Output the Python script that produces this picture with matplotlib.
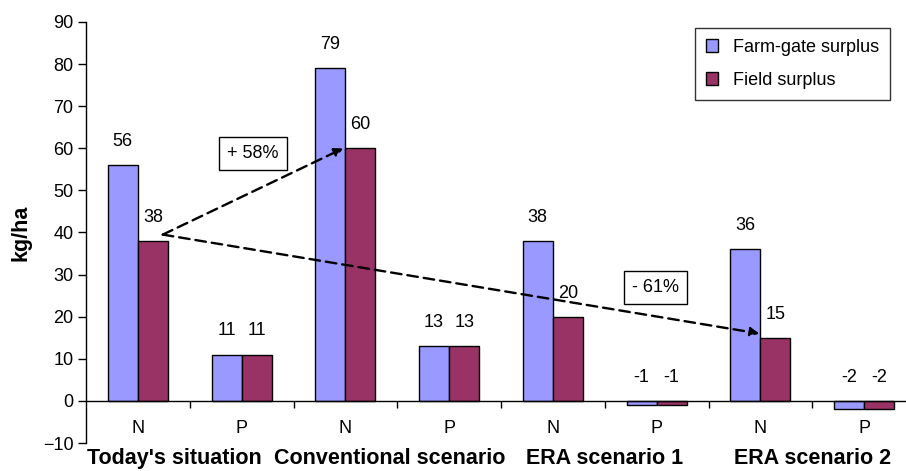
import matplotlib
matplotlib.use("Agg")
import matplotlib.pyplot as plt
import numpy as np

# Nutrient surpluses per scenario (kg/ha)
scenarios = ["Today's situation", "Conventional scenario", "ERA scenario 1", "ERA scenario 2"]
nutrients = ["N", "P", "N", "P", "N", "P", "N", "P"]
farm_gate = [56, 11, 79, 13, 38, -1, 36, -2]
field = [38, 11, 60, 13, 20, -1, 15, -2]
series_names = ["Farm-gate surplus", "Field surplus"]
change_labels = ["+ 58%", "- 61%"]

plt.rcParams["font.family"] = ["Liberation Sans", "DejaVu Sans"]
FS = 13
FS_BOLD = 15.5

fig = plt.figure(figsize=(9.06, 4.71), dpi=100)
ax = fig.add_axes([86 / 906, 1 - 443 / 471, 830 / 906, 421 / 471])

x = np.arange(len(nutrients))
w = 0.29
blue = "#9999FF"
maroon = "#993366"
b1 = ax.bar(x - w / 2, farm_gate, w, color=blue, edgecolor="black", linewidth=1.0,
            label=series_names[0], zorder=2)
b2 = ax.bar(x + w / 2, field, w, color=maroon, edgecolor="black", linewidth=1.0,
            label=series_names[1], zorder=2)

# value labels above each bar (negative bars labelled above the zero line)
for bars, vals in ((b1, farm_gate), (b2, field)):
    for rect, v in zip(bars, vals):
        cx = rect.get_x() + rect.get_width() / 2
        base = max(v, 0)
        ax.annotate(f"{v}", (cx, base), xytext=(0, 17), textcoords="offset points",
                    ha="center", va="center", fontsize=FS, zorder=4)

ax.set_xlim(-0.5, len(nutrients) - 0.5)
ax.set_ylim(-10, 90)
ax.set_yticks(np.arange(-10, 91, 10))
ax.tick_params(axis="y", direction="out", length=6, width=1, labelsize=FS, pad=3)

# x axis sits on zero; boundary ticks, category labels centred
ax.spines["bottom"].set_position(("data", 0))
ax.spines["top"].set_visible(False)
ax.spines["right"].set_visible(False)
ax.spines["left"].set_linewidth(1.0)
ax.spines["bottom"].set_linewidth(1.0)
ax.set_xticks(np.arange(0.5, len(nutrients) - 0.5, 1))
ax.set_xticklabels([])
ax.tick_params(axis="x", which="major", direction="out", length=5, width=1)
ax.set_xticks(x, minor=True)
ax.set_xticklabels(nutrients, minor=True, fontsize=FS)
ax.tick_params(axis="x", which="minor", length=0, pad=14)

# scenario group labels
group_pos = [0.35, 2.43, 4.5, 6.5]
for gx, name in zip(group_pos, scenarios):
    ax.text(gx, -13.7, name, ha="center", va="center", fontsize=FS_BOLD,
            fontweight="bold", clip_on=False)

ax.set_ylabel("kg/ha", fontsize=FS_BOLD, fontweight="bold", labelpad=8)

# change arrows between field surpluses
start = (0.24, field[0] + 1.5)
arrow_kw = dict(arrowstyle="-|>", linestyle=(0, (4.5, 2.5)), color="black", lw=1.7,
                mutation_scale=13, shrinkA=0, shrinkB=0)
ax.annotate("", xy=(2 - 0.02, field[2]), xytext=start, arrowprops=arrow_kw, zorder=3)
ax.annotate("", xy=(6 - 0.01, field[6] + 1), xytext=start, arrowprops=arrow_kw, zorder=3)

box = dict(boxstyle="square,pad=0.45", facecolor="white", edgecolor="black", linewidth=1.0)
ax.text(1.11, 58.8, change_labels[0], ha="center", va="center", fontsize=FS, bbox=box, zorder=5)
ax.text(4.99, 26.9, change_labels[1], ha="center", va="center", fontsize=FS, bbox=box, zorder=5)

leg = fig.legend(handles=[b1, b2], loc="upper left",
                 bbox_to_anchor=(695 / 906, 1 - 28 / 471), fontsize=FS,
                 frameon=True, fancybox=False, shadow=False, borderaxespad=0,
                 handlelength=0.7, handleheight=0.7, handletextpad=0.8,
                 labelspacing=0.9, borderpad=0.6)
leg.get_frame().set_edgecolor("black")
leg.get_frame().set_linewidth(1.0)

fig.savefig("out.png", dpi=100)
